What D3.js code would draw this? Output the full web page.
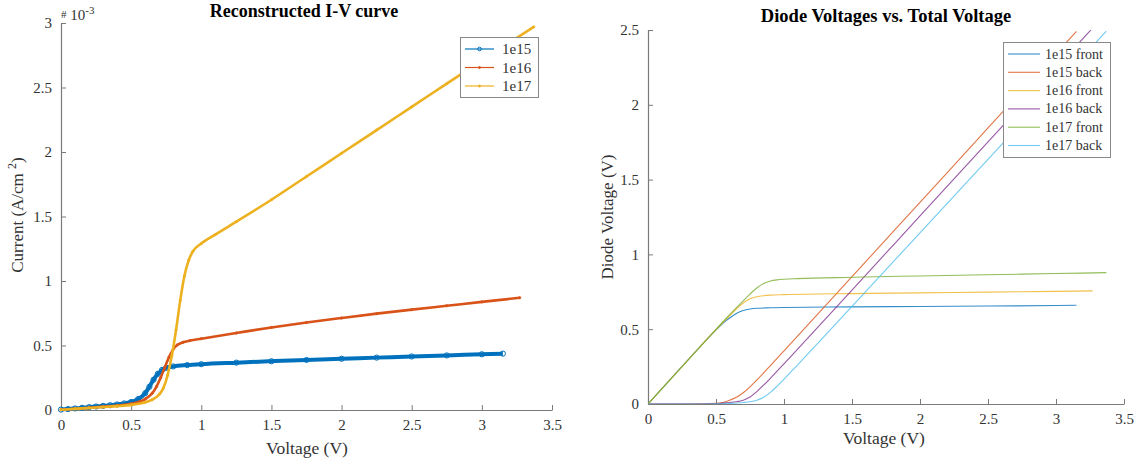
<!DOCTYPE html>
<html>
<head>
<meta charset="utf-8">
<script src="https://cdn.jsdelivr.net/npm/d3@7"></script>
<style>
  html, body { margin: 0; padding: 0; background: #fff; }
  svg { display: block; }
  svg text { font-family: "Liberation Serif", "Times New Roman", Times, serif; }
</style>
</head>
<body>
<svg id="chart" width="1136" height="465"></svg>
<script>
// ---------- Reconstructed I-V curve (current in units of 1e-3 A/cm^2) ----------
const ivVoltage15 = [0, 0.05, 0.1, 0.15, 0.2, 0.25, 0.3, 0.35, 0.4, 0.45, 0.5, 0.55, 0.6, 0.63, 0.66, 0.69, 0.72, 0.75, 0.8, 0.9, 1.0, 1.25, 1.5, 1.75, 2.0, 2.25, 2.5, 2.75, 3.0, 3.15];
const ivCurrent15 = [0.003, 0.007, 0.012, 0.017, 0.022, 0.027, 0.032, 0.037, 0.043, 0.051, 0.062, 0.085, 0.13, 0.18, 0.235, 0.28, 0.31, 0.327, 0.338, 0.348, 0.355, 0.367, 0.378, 0.388, 0.397, 0.406, 0.415, 0.423, 0.432, 0.437];

const ivVoltage16 = [0, 0.1, 0.2, 0.3, 0.4, 0.5, 0.55, 0.6, 0.65, 0.68, 0.71, 0.74, 0.77, 0.8, 0.83, 0.87, 0.92, 1.0, 1.25, 1.5, 1.75, 2.0, 2.25, 2.5, 2.75, 3.0, 3.27];
const ivCurrent16 = [0.002, 0.01, 0.018, 0.026, 0.035, 0.048, 0.06, 0.085, 0.13, 0.18, 0.25, 0.33, 0.41, 0.47, 0.505, 0.525, 0.538, 0.553, 0.597, 0.64, 0.678, 0.713, 0.747, 0.778, 0.808, 0.838, 0.87];

const ivVoltage17 = [0, 0.1, 0.2, 0.3, 0.4, 0.5, 0.6, 0.65, 0.7, 0.73, 0.76, 0.79, 0.82, 0.85, 0.88, 0.91, 0.94, 1.0, 1.1, 1.25, 1.5, 1.75, 2.0, 2.25, 2.5, 2.75, 3.0, 3.2, 3.37];
const ivCurrent17 = [0.002, 0.009, 0.016, 0.023, 0.03, 0.04, 0.06, 0.08, 0.12, 0.17, 0.27, 0.42, 0.62, 0.85, 1.04, 1.16, 1.23, 1.29, 1.36, 1.46, 1.63, 1.81, 1.99, 2.17, 2.35, 2.53, 2.71, 2.85, 2.97];

const ivLabels = ["1e15", "1e16", "1e17"];

// ---------- Diode voltages vs. total voltage ----------
const totalV15 = [0, 0.3, 0.5, 0.55, 0.6, 0.65, 0.7, 0.75, 0.8, 0.9, 1.0, 1.5, 2.0, 2.5, 3.0, 3.15];
const front15  = [0, 0.3, 0.495, 0.54, 0.575, 0.605, 0.625, 0.635, 0.64, 0.643, 0.645, 0.649, 0.652, 0.655, 0.658, 0.66];
const back15   = [0, 0, 0.005, 0.01, 0.025, 0.045, 0.075, 0.115, 0.16, 0.257, 0.355, 0.851, 1.348, 1.845, 2.342, 2.49];

const totalV16 = [0, 0.3, 0.5, 0.6, 0.65, 0.7, 0.75, 0.8, 0.85, 0.9, 1.0, 1.5, 2.0, 2.5, 3.0, 3.27];
const front16  = [0, 0.3, 0.498, 0.59, 0.635, 0.675, 0.703, 0.717, 0.724, 0.728, 0.731, 0.738, 0.743, 0.748, 0.753, 0.756];
const back16   = [0, 0, 0.002, 0.01, 0.015, 0.025, 0.047, 0.083, 0.126, 0.172, 0.269, 0.762, 1.257, 1.752, 2.247, 2.514];

const totalV17 = [0, 0.3, 0.5, 0.6, 0.7, 0.75, 0.8, 0.85, 0.9, 0.95, 1.0, 1.1, 1.5, 2.0, 2.5, 3.0, 3.37];
const front17  = [0, 0.3, 0.499, 0.597, 0.69, 0.735, 0.775, 0.805, 0.822, 0.83, 0.834, 0.838, 0.847, 0.856, 0.864, 0.872, 0.878];
const back17   = [0, 0, 0.001, 0.003, 0.01, 0.015, 0.025, 0.045, 0.078, 0.12, 0.166, 0.262, 0.653, 1.144, 1.636, 2.128, 2.492];

const diodeLabels = ["1e15 front", "1e15 back", "1e16 front", "1e16 back", "1e17 front", "1e17 back"];

// tick values
const voltageTicks = [0, 0.5, 1, 1.5, 2, 2.5, 3, 3.5];
const currentTicks = [0, 0.5, 1, 1.5, 2, 2.5, 3];
const diodeTicks   = [0, 0.5, 1, 1.5, 2, 2.5];

// MATLAB-style default colour order
const palette = ["#0072BD", "#D95319", "#EDB120", "#7E2F8E", "#77AC30", "#4DBEEE"];

const svg = d3.select("#chart");
const serif = "'Liberation Serif', 'Times New Roman', Times, serif";
const axisColor = "#7a7a7a";
const textColor = "#333";

function styleAxis(g) {
  g.attr("font-family", null).attr("font-size", null);
  g.select(".domain").attr("stroke", axisColor).attr("stroke-width", 1.2);
  g.selectAll(".tick line").attr("stroke", axisColor);
  g.selectAll(".tick text").attr("fill", textColor)
    .style("font-family", serif).style("font-size", "15px");
}

function fmt(d) { return d3.format("")(d); }

// ================= Left panel =================
const xL = d3.scaleLinear().domain([0, 3.5]).range([61, 552]);
const yL = d3.scaleLinear().domain([0, 3]).range([410, 23]);

const left = svg.append("g");

const gxL = left.append("g").attr("transform", `translate(0,${yL(0)})`)
  .call(d3.axisBottom(xL).tickValues(voltageTicks).tickFormat(fmt).tickSizeInner(-5).tickSizeOuter(0).tickPadding(9));
styleAxis(gxL);
const gyL = left.append("g").attr("transform", `translate(${xL(0)},0)`)
  .call(d3.axisLeft(yL).tickValues(currentTicks).tickFormat(fmt).tickSizeInner(-5).tickSizeOuter(0).tickPadding(9));
styleAxis(gyL);

const ivSeries = [
  { name: ivLabels[0], v: ivVoltage15, i: ivCurrent15, color: palette[0], width: 4, marker: "circle" },
  { name: ivLabels[1], v: ivVoltage16, i: ivCurrent16, color: palette[1], width: 2.6, marker: "dot" },
  { name: ivLabels[2], v: ivVoltage17, i: ivCurrent17, color: palette[2], width: 2.6, marker: "dot" }
];

const lineL = d3.line().x(d => xL(d[0])).y(d => yL(d[1])).curve(d3.curveMonotoneX);

ivSeries.forEach(s => {
  const pts = s.v.map((v, k) => [v, s.i[k]]);
  left.append("path").datum(pts)
    .attr("fill", "none").attr("stroke", s.color).attr("stroke-width", s.width)
    .attr("stroke-linejoin", "round").attr("d", lineL);
  left.append("g").selectAll("circle").data(pts).join("circle")
    .attr("cx", d => xL(d[0])).attr("cy", d => yL(d[1]))
    .attr("r", s.marker === "circle" ? 2.6 : 1.2)
    .attr("fill", s.marker === "circle" ? "none" : s.color)
    .attr("stroke", s.color).attr("stroke-width", s.marker === "circle" ? 1 : 0.6);
});

left.append("text").attr("x", 304).attr("y", 17).attr("text-anchor", "middle")
  .style("font-size", "18px").attr("font-weight", "bold").attr("fill", "#000")
  .text("Reconstructed I-V curve");

left.append("text").attr("x", 307).attr("y", 454).attr("text-anchor", "middle")
  .style("font-size", "17.5px").attr("fill", textColor).text("Voltage (V)");

const ylab = left.append("text").attr("transform", "translate(23,215) rotate(-90)")
  .attr("text-anchor", "middle").style("font-size", "17px").attr("fill", textColor);
ylab.append("tspan").text("Current (A/cm ");
ylab.append("tspan").style("font-size", "12px").attr("dy", -7).text("2");
ylab.append("tspan").attr("dy", 7).text(")");

// exponent marker above the y axis
const expo = left.append("text").attr("x", 61).attr("y", 20).attr("fill", textColor).style("font-size", "15px");
expo.append("tspan").style("font-size", "11px").attr("dy", -2).text("#");
expo.append("tspan").attr("dy", 2).text(" 10");
expo.append("tspan").style("font-size", "11px").attr("dy", -6).text("-3");

// legend
const legL = left.append("g");
legL.append("rect").attr("x", 460.5).attr("y", 37.5).attr("width", 78).attr("height", 60)
  .attr("fill", "#fff").attr("stroke", "#888").attr("stroke-width", 1);
ivSeries.forEach((s, k) => {
  const y = 49 + k * 18.5;
  legL.append("line").attr("x1", 465).attr("x2", 494).attr("y1", y).attr("y2", y)
    .attr("stroke", s.color).attr("stroke-width", 1.2);
  legL.append("circle").attr("cx", 479.5).attr("cy", y).attr("r", s.marker === "circle" ? 1.8 : 1)
    .attr("fill", s.marker === "circle" ? "none" : s.color).attr("stroke", s.color).attr("stroke-width", 1);
  legL.append("text").attr("x", 502).attr("y", y + 5).style("font-size", "15px").attr("fill", textColor).text(s.name);
});

// ================= Right panel =================
const xR = d3.scaleLinear().domain([0, 3.5]).range([648, 1124]);
const yR = d3.scaleLinear().domain([0, 2.5]).range([404, 30]);

const right = svg.append("g");

svg.append("defs").append("clipPath").attr("id", "clipR")
  .append("rect").attr("x", xR(0)).attr("y", yR(2.5)).attr("width", xR(3.5) - xR(0)).attr("height", yR(0) - yR(2.5));

const gxR = right.append("g").attr("transform", `translate(0,${yR(0)})`)
  .call(d3.axisBottom(xR).tickValues(voltageTicks).tickFormat(fmt).tickSizeInner(-5).tickSizeOuter(0).tickPadding(9));
styleAxis(gxR);
const gyR = right.append("g").attr("transform", `translate(${xR(0)},0)`)
  .call(d3.axisLeft(yR).tickValues(diodeTicks).tickFormat(fmt).tickSizeInner(-5).tickSizeOuter(0).tickPadding(9));
styleAxis(gyR);

const diodeSeries = [
  { name: diodeLabels[0], v: totalV15, d: front15, color: palette[0] },
  { name: diodeLabels[1], v: totalV15, d: back15,  color: palette[1] },
  { name: diodeLabels[2], v: totalV16, d: front16, color: palette[2] },
  { name: diodeLabels[3], v: totalV16, d: back16,  color: palette[3] },
  { name: diodeLabels[4], v: totalV17, d: front17, color: palette[4] },
  { name: diodeLabels[5], v: totalV17, d: back17,  color: palette[5] }
];

const lineR = d3.line().x(d => xR(d[0])).y(d => yR(d[1])).curve(d3.curveMonotoneX);
const plotR = right.append("g").attr("clip-path", "url(#clipR)");
diodeSeries.forEach(s => {
  plotR.append("path").datum(s.v.map((v, k) => [v, s.d[k]]))
    .attr("fill", "none").attr("stroke", s.color).attr("stroke-opacity", 0.8)
    .attr("stroke-width", 1.1).attr("d", lineR);
});

right.append("text").attr("x", 886).attr("y", 22).attr("text-anchor", "middle")
  .style("font-size", "18.5px").attr("font-weight", "bold").attr("fill", "#000")
  .text("Diode Voltages vs. Total Voltage");

right.append("text").attr("x", 884).attr("y", 444).attr("text-anchor", "middle")
  .style("font-size", "17.5px").attr("fill", textColor).text("Voltage (V)");

right.append("text").attr("transform", "translate(613,217) rotate(-90)")
  .attr("text-anchor", "middle").style("font-size", "17px").attr("fill", textColor).text("Diode Voltage (V)");

const legR = right.append("g");
legR.append("rect").attr("x", 1003.5).attr("y", 42.5).attr("width", 107).attr("height", 115)
  .attr("fill", "#fff").attr("stroke", "#888").attr("stroke-width", 1);
diodeSeries.forEach((s, k) => {
  const y = 54 + k * 18.3;
  legR.append("line").attr("x1", 1008).attr("x2", 1040).attr("y1", y).attr("y2", y)
    .attr("stroke", s.color).attr("stroke-opacity", 0.8).attr("stroke-width", 1.1);
  legR.append("text").attr("x", 1045).attr("y", y + 4.5).style("font-size", "14px").attr("fill", textColor).text(s.name);
});
</script>
</body>
</html>
